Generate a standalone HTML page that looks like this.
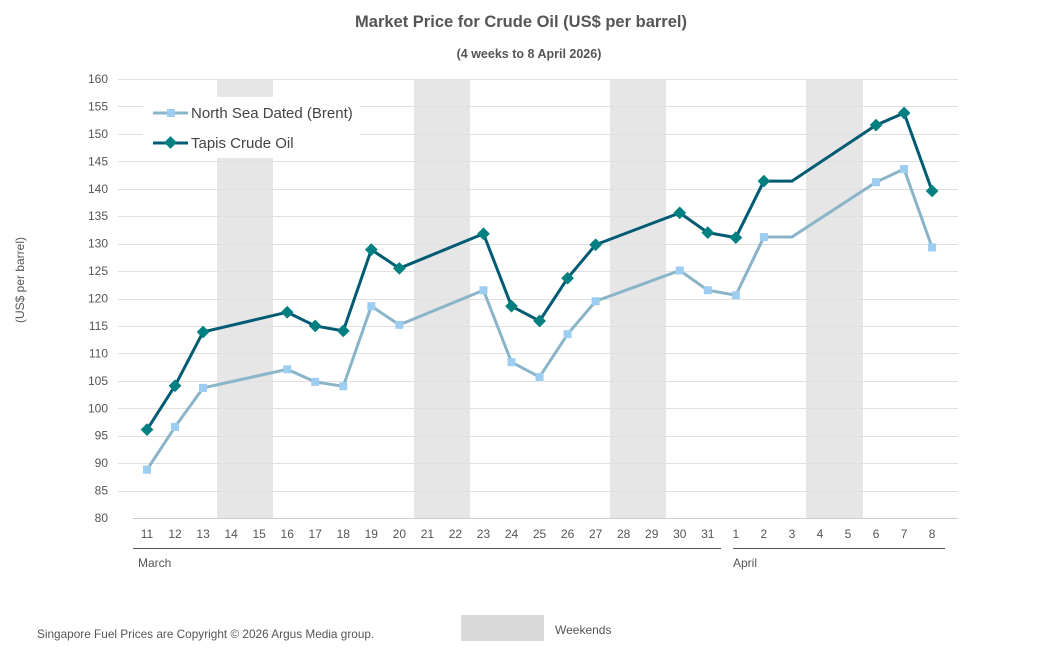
<!DOCTYPE html>
<html><head><meta charset="utf-8"><style>
body{margin:0;background:#fff;font-family:"Liberation Sans",Arial,sans-serif}
</style></head><body>
<svg width="1044" height="662" viewBox="0 0 1044 662" xmlns="http://www.w3.org/2000/svg" font-family="Liberation Sans, Arial, sans-serif">
<text x="521" y="27" text-anchor="middle" font-size="16.5" font-weight="bold" fill="#555">Market Price for Crude Oil (US$ per barrel)</text>
<text x="529" y="58" text-anchor="middle" font-size="12.5" font-weight="bold" fill="#555">(4 weeks to 8 April 2026)</text>
<g fill="#e6e6e6">
<rect x="217" y="79" width="56" height="439"/>
<rect x="414" y="79" width="56" height="439"/>
<rect x="610" y="79" width="56" height="439"/>
<rect x="806" y="79" width="57" height="439"/>
</g>
<g id="grid" stroke="#e0e0e0" stroke-width="1"></g>
<g id="ylab" font-size="12" fill="#555" text-anchor="end"></g>
<line x1="133" y1="518.5" x2="958" y2="518.5" stroke="#ccc"/>
<g id="xlab" font-size="12" fill="#555" text-anchor="middle"></g>
<line x1="133" y1="548.5" x2="721" y2="548.5" stroke="#555"/>
<line x1="733" y1="548.5" x2="945" y2="548.5" stroke="#555"/>
<text x="138" y="567" font-size="12" fill="#555">March</text>
<text x="733" y="567" font-size="12" fill="#555">April</text>
<text transform="translate(24,280) rotate(-90)" text-anchor="middle" font-size="12" fill="#555">(US$ per barrel)</text>
<rect x="143" y="97" width="217" height="61" fill="#fff"/>
<line x1="153" y1="113" x2="188" y2="113" stroke="#8ab4c8" stroke-width="3"/>
<rect x="167" y="109" width="8" height="8" fill="#9dcdf0"/>
<text x="191" y="118" font-size="15" fill="#444">North Sea Dated (Brent)</text>
<line x1="153" y1="143" x2="188" y2="143" stroke="#005b73" stroke-width="3"/>
<rect x="166" y="138" width="9" height="9" fill="#008080" transform="rotate(45 170.5 142.5)"/>
<text x="191" y="148" font-size="15" fill="#444">Tapis Crude Oil</text>
<g id="series"></g>
<rect x="461" y="615" width="83" height="26" fill="#d9d9d9"/>
<text x="555" y="634" font-size="12" fill="#555">Weekends</text>
<text x="37" y="638" font-size="11.8" fill="#555">Singapore Fuel Prices are Copyright © 2026 Argus Media group.</text>
</svg>
<script>
const NS="http://www.w3.org/2000/svg";
function el(t,a,p){const e=document.createElementNS(NS,t);for(const k in a)e.setAttribute(k,a[k]);document.getElementById(p).appendChild(e);return e;}
const Y=v=>518-(v-80)*5.4875, X=i=>147+i*28.04;
for(let v=85;v<=160;v+=5){el("line",{x1:118,x2:958,y1:Math.round(Y(v))+.5,y2:Math.round(Y(v))+.5},"grid");}
for(let v=80;v<=160;v+=5){el("text",{x:108,y:Y(v)+4},"ylab").textContent=v;}
const days=[11,12,13,14,15,16,17,18,19,20,21,22,23,24,25,26,27,28,29,30,31,1,2,3,4,5,6,7,8];
days.forEach((d,i)=>{el("text",{x:X(i),y:538},"xlab").textContent=d;});
const b=[88.8,96.6,103.7,null,null,107.1,104.8,104.0,118.6,115.2,null,null,121.5,108.4,105.7,113.5,119.5,null,null,125.1,121.5,120.6,131.2,131.2,null,null,141.2,143.6,129.3];
const t=[96.1,104.1,113.9,null,null,117.5,115.0,114.1,128.9,125.5,null,null,131.8,118.6,115.9,123.7,129.8,null,null,135.6,132.0,131.1,141.4,141.4,null,null,151.6,153.8,139.6];
function draw(d,col,mk){let pts=[];d.forEach((v,i)=>{if(v!=null)pts.push([X(i),Y(v),i]);});
el("polyline",{points:pts.map(p=>p[0]+","+p[1]).join(" "),fill:"none",stroke:col,"stroke-width":3,"stroke-linejoin":"round"},"series");
pts.forEach(p=>{if(p[2]==23)return;if(mk=="s")el("rect",{x:p[0]-4,y:p[1]-4,width:8,height:8,fill:"#9dcdf0"},"series");
else el("rect",{x:p[0]-4.5,y:p[1]-4.5,width:9,height:9,fill:"#008080",transform:`rotate(45 ${p[0]} ${p[1]})`},"series");});}
draw(b,"#8ab4c8","s");draw(t,"#005b73","d");
</script>
</body></html>
